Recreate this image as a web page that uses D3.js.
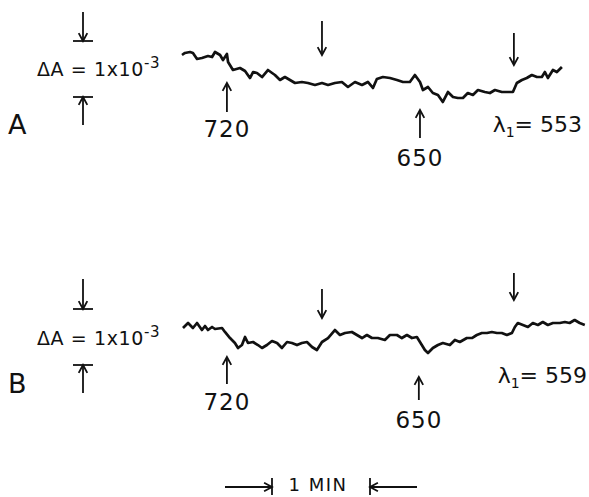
<!DOCTYPE html>
<html>
<head>
<meta charset="utf-8">
<script src="https://cdn.jsdelivr.net/npm/d3@7"></script>
<style>
  body { margin: 0; background: #fff; }
  svg { display: block; }
</style>
</head>
<body>
<div id="chart"></div>
<script>
// ---- data (time in s, absorbance change in units of 1e-4) ----
const timeA = [0, 1.8, 4.9, 6.7, 9.2, 12.2, 15.9, 18.4, 20.2, 23.3, 25.1, 27.5, 28.2, 31.2, 35.5, 38.6, 41.6, 43.5, 45.9, 49.0,
  52.6, 56.9, 60.0, 63.0, 66.1, 69.2, 73.4, 77.1, 81.4, 85.7, 89.4, 93.6, 97.9, 101.6, 105.9, 110.2, 113.8, 116.9, 119.3, 123.0,
  127.3, 131.6, 135.3, 139.5, 142.6, 145.7, 147.5, 150.6, 153.6, 156.7, 159.7, 162.8, 165.9, 168.9, 172.0, 175.0, 178.1, 181.2, 185.4, 188.5,
  191.6, 195.8, 199.5, 202.6, 205.0, 208.1, 211.1, 214.2, 217.3, 220.3, 222.2, 224.0, 227.1, 229.5, 232.6];
const absA = [0, 0.36, 0.54, 0.36, -0.71, -0.54, -0.18, -0.36, 0.54, 0, -0.89, 0.18, -1.25, -2.68, -2.32, -2.86, -4.11, -3.04, -3.21, -3.93,
  -2.68, -3.57, -4.46, -3.93, -4.46, -5.0, -4.82, -5.0, -5.36, -5.0, -5.36, -5.0, -4.82, -5.71, -4.82, -5.36, -4.82, -5.89, -4.29, -3.93,
  -4.11, -4.46, -4.82, -4.82, -3.57, -4.82, -6.25, -5.71, -6.79, -7.14, -8.39, -6.61, -7.5, -7.68, -7.68, -6.79, -7.14, -6.25, -6.61, -6.79,
  -6.25, -6.61, -6.61, -6.61, -5.0, -4.46, -4.11, -3.57, -3.93, -3.93, -3.04, -4.11, -2.68, -3.04, -2.14];

const timeB = [0.6, 3.7, 6.7, 9.2, 12.2, 14.1, 15.9, 18.4, 20.2, 24.5, 26.3, 29.4, 32.4, 34.3, 36.7, 38.6, 40.4, 43.5, 46.5, 49.0,
  52.0, 55.1, 58.2, 61.2, 64.3, 67.3, 70.4, 73.4, 76.5, 79.6, 82.6, 85.7, 89.4, 93.6, 96.7, 99.8, 104.0, 107.1, 110.2, 113.2,
  116.3, 119.9, 124.2, 127.3, 131.6, 134.6, 137.7, 140.8, 143.8, 145.7, 148.7, 150.6, 153.6, 156.7, 159.7, 164.0, 167.1, 170.1, 174.4, 177.5,
  180.5, 183.6, 186.7, 189.7, 192.8, 195.8, 198.9, 202.0, 203.8, 205.6, 208.7, 211.8, 214.8, 217.9, 220.9, 224.0, 227.1, 231.3, 234.4, 237.3,
  240.4, 243.5, 246.6];
const absB = [0, 0.89, 0, 0.89, -0.36, 0.36, -0.36, 0.18, -0.18, 0, -0.71, -1.79, -2.68, -3.57, -3.04, -1.61, -2.68, -2.5, -3.04, -3.57,
  -3.04, -2.32, -2.68, -3.57, -2.5, -2.68, -3.04, -2.68, -2.5, -3.39, -3.93, -2.5, -1.79, -0.36, -1.25, -0.89, -0.71, -1.25, -1.79, -1.25,
  -1.79, -1.79, -2.14, -1.25, -1.25, -1.79, -1.25, -1.79, -1.61, -2.5, -3.93, -4.46, -3.57, -3.04, -2.68, -3.04, -2.14, -2.5, -1.79, -1.79,
  -1.25, -0.89, -0.89, -0.71, -0.89, -0.89, -1.25, -0.89, 0.18, 0.89, 0.54, 0.18, 0.89, 0.54, 1.07, 0.54, 0.89, 0.89, 1.07, 0.89,
  1.43, 0.89, 0.54];

// light on/off times (s): 720 on, 720 off, 650 on, 650 off
const eventsA = [27.5, 85.7, 145.7, 203.2];
const eventsB = [27.5, 85.7, 145.0, 203.2];
const eventLabels = ['720', '', '650', ''];
const panelNames = ['A', 'B'];
const lambdas = ['553', '559'];
const scaleBarValue = 10;   // 1e-3 in units of 1e-4
const minuteStart = 55.1;   // s

// ---- layout ----
const W = 589, H = 497;
const FONT = 'DejaVu Sans, sans-serif';
const ink = '#111';

const svg = d3.select('#chart').append('svg')
  .attr('width', W).attr('height', H)
  .attr('viewBox', `0 0 ${W} ${H}`);
svg.append('rect').attr('width', W).attr('height', H).attr('fill', '#fff');

const x = d3.scaleLinear().domain([0, 60]).range([182, 280]);

const panels = [
  { name: panelNames[0], time: timeA, abs: absA, events: eventsA, lambda: lambdas[0],
    y0: 55, barTop: 41, arrowTop: 12, textY: 76, nameY: 134,
    ev: [{ dir: 'up', y1: 83, y2: 112, ly: 137 }, { dir: 'down', y1: 21, y2: 55 },
         { dir: 'up', y1: 110, y2: 138, ly: 166 }, { dir: 'down', y1: 33, y2: 65 }],
    lx: 582, lY: 132 },
  { name: panelNames[1], time: timeB, abs: absB, events: eventsB, lambda: lambdas[1],
    y0: 328, barTop: 309, arrowTop: 279, textY: 345, nameY: 393,
    ev: [{ dir: 'up', y1: 357, y2: 384, ly: 410 }, { dir: 'down', y1: 289, y2: 318 },
         { dir: 'up', y1: 377, y2: 400, ly: 428 }, { dir: 'down', y1: 273, y2: 300 }],
    lx: 587, lY: 383 }
];

// line with open V head at (x2, y2)
function arrow(g, x1, y1, x2, y2) {
  const ang = Math.atan2(y2 - y1, x2 - x1);
  const L = 9, a = 0.5;
  g.append('line').attr('x1', x1).attr('y1', y1).attr('x2', x2).attr('y2', y2)
    .attr('stroke', ink).attr('stroke-width', 1.8);
  g.append('path')
    .attr('d', `M${x2 - L * Math.cos(ang - a)},${y2 - L * Math.sin(ang - a)}L${x2},${y2}L${x2 - L * Math.cos(ang + a)},${y2 - L * Math.sin(ang + a)}`)
    .attr('fill', 'none').attr('stroke', ink).attr('stroke-width', 1.8);
}

panels.forEach(p => {
  const g = svg.append('g');
  const y = d3.scaleLinear().domain([0, -scaleBarValue]).range([p.y0, p.y0 + 56]);
  const barLen = y(-scaleBarValue) - y(0);

  // trace
  const pts = p.time.map((t, i) => [t, p.abs[i]]);
  g.append('path')
    .datum(pts)
    .attr('d', d3.line().x(d => x(d[0])).y(d => y(d[1])))
    .attr('fill', 'none').attr('stroke', ink)
    .attr('stroke-width', 2.7).attr('stroke-linejoin', 'round');

  // absorbance scale bar
  const sx = 83;
  const top = p.barTop, bot = p.barTop + barLen;
  arrow(g, sx, p.arrowTop, sx, top);
  g.append('line').attr('x1', sx - 10).attr('x2', sx + 10).attr('y1', top).attr('y2', top)
    .attr('stroke', ink).attr('stroke-width', 1.8);
  arrow(g, sx, bot + 28, sx, bot);
  g.append('line').attr('x1', sx - 10).attr('x2', sx + 10).attr('y1', bot).attr('y2', bot)
    .attr('stroke', ink).attr('stroke-width', 1.8);
  const t = g.append('text').attr('x', 37).attr('y', p.textY)
    .attr('font-family', FONT).attr('font-size', 19).attr('fill', ink)
    .attr('letter-spacing', 0.6);
  t.append('tspan').text('ΔA = 1x10');
  t.append('tspan').attr('dy', -8).attr('font-size', 15).text('-3');

  // panel letter
  g.append('text').attr('x', 8).attr('y', p.nameY)
    .attr('font-family', FONT).attr('font-size', 27).attr('fill', ink).text(p.name);

  // light event arrows
  p.events.forEach((e, i) => {
    const ev = p.ev[i];
    const ex = x(e);
    if (ev.dir === 'up') arrow(g, ex, ev.y2, ex, ev.y1);
    else arrow(g, ex, ev.y1, ex, ev.y2);
    if (eventLabels[i]) {
      g.append('text').attr('x', ex).attr('y', ev.ly).attr('text-anchor', 'middle')
        .attr('font-family', FONT).attr('font-size', 23).attr('fill', ink)
        .attr('letter-spacing', 1).text(eventLabels[i]);
    }
  });

  // wavelength label
  const lt = g.append('text').attr('x', p.lx).attr('y', p.lY).attr('text-anchor', 'end')
    .attr('font-family', FONT).attr('font-size', 22).attr('fill', ink);
  lt.append('tspan').text('λ');
  lt.append('tspan').attr('dy', 5).attr('font-size', 14).text('1');
  lt.append('tspan').attr('dy', -5).text('= ' + p.lambda);
});

// time scale: 1 minute
const mg = svg.append('g');
const mx1 = x(minuteStart), mx2 = x(minuteStart + 60), my = 487;
arrow(mg, mx1 - 47, my, mx1, my);
mg.append('line').attr('x1', mx1).attr('x2', mx1).attr('y1', 478).attr('y2', 495)
  .attr('stroke', ink).attr('stroke-width', 1.8);
arrow(mg, mx2 + 47, my, mx2, my);
mg.append('line').attr('x1', mx2).attr('x2', mx2).attr('y1', 478).attr('y2', 495)
  .attr('stroke', ink).attr('stroke-width', 1.8);
mg.append('text').attr('x', (mx1 + mx2) / 2 - 3).attr('y', 491).attr('text-anchor', 'middle')
  .attr('font-family', FONT).attr('font-size', 18).attr('fill', ink)
  .attr('letter-spacing', 1.5).text('1 MIN');
</script>
</body>
</html>
